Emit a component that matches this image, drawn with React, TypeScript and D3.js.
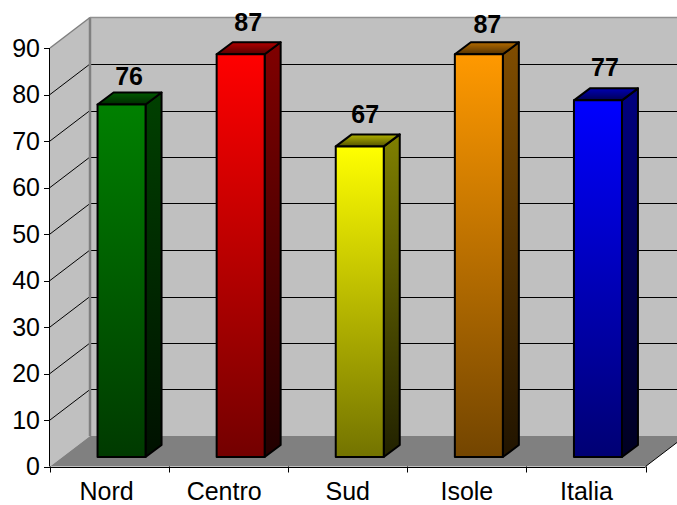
import React from "react";
import * as d3 from "d3";

const categories = ["Nord", "Centro", "Sud", "Isole", "Italia"];
const values = [75.8, 86.6, 66.8, 86.6, 76.7];
const frontColors = ["#008000", "#ff0000", "#ffff00", "#ff9900", "#0000ff"];
const yTicks = [0, 10, 20, 30, 40, 50, 60, 70, 80, 90];
const labelNudge = [-3, -4.5, 0, 0, 0.5];
const valueNudgeX = [0.5, 0.5, -1.5, 1.5, 0];
const valueNudgeY = [4, 0, 0, 2, -1.5];

const W = 677, H = 505;
const x0 = 50, x1 = 645.5, yBase = 466.5, yTop = 48;
const DX = 40, DY = -30.5;
const barW = 48, sideX = 16, sideY = -12;
const barDX = 12, barDY = -9.5;

const x = d3.scaleBand<string>().domain(categories).range([x0, x1]);
const y = d3.scaleLinear().domain([0, 90]).range([yBase, yTop]);
const tickEdges = d3.range(categories.length + 1).map((i) => x0 + i * x.bandwidth());
const pts = (a: number[][]) => a.map((p) => p.join(",")).join(" ");
const mix = (c: string, k: number) => {
  const r = d3.rgb(c);
  return d3.rgb(r.r * k, r.g * k, r.b * k).formatHex();
};
const crisp = (v: number) => Math.round(v) + 0.5;

export default function App() {
  const font = "'Liberation Sans', Arial, sans-serif";
  return (
    <svg width={W} height={H} style={{ position: "absolute", left: 0, top: 0 }} fontFamily={font}>
      <defs>
        {frontColors.map((c, i) => (
          <React.Fragment key={c}>
            <linearGradient id={`f${i}`} x1="0" y1="0" x2="0" y2="1">
              <stop offset="0" stopColor={c} />
              <stop offset="1" stopColor={mix(c, 0.45)} />
            </linearGradient>
            <linearGradient id={`s${i}`} x1="0" y1="0" x2="0" y2="1">
              <stop offset="0" stopColor={mix(c, 0.5)} />
              <stop offset="1" stopColor={mix(c, 0.13)} />
            </linearGradient>
            <linearGradient id={`t${i}`} x1="0" y1="0" x2="0" y2="1">
              <stop offset="0" stopColor={mix(c, 0.7)} />
              <stop offset="1" stopColor={mix(c, 0.33)} />
            </linearGradient>
          </React.Fragment>
        ))}
      </defs>

      {/* back wall */}
      <rect x={x0 + DX} y={yTop + DY} width={W - x0 - DX + 10} height={yBase - yTop} fill="#c0c0c0" />
      {/* left wall */}
      <polygon
        points={pts([[x0, yBase], [x0, yTop], [x0 + DX, yTop + DY], [x0 + DX, yBase + DY]])}
        fill="#c0c0c0"
      />
      {/* floor */}
      <polygon
        points={pts([[x0, yBase], [x1, yBase], [x1 + DX, yBase + DY], [x0 + DX, yBase + DY]])}
        fill="#808080"
      />

      {/* grid */}
      {yTicks.slice(1, -1).map((t) => (
        <g key={t} stroke="#000" strokeWidth={1} fill="none">
          <line x1={x0} y1={y(t)} x2={x0 + DX} y2={y(t) + DY} />
          <line x1={x0 + DX} y1={crisp(y(t) + DY)} x2={W} y2={crisp(y(t) + DY)} />
        </g>
      ))}

      {/* wall edges */}
      <line x1={x0 + DX} y1={yTop + DY} x2={x0 + DX} y2={yBase + DY} stroke="#808080" strokeWidth={2.5} />
      <line x1={x0 + DX} y1={yTop + DY} x2={W} y2={yTop + DY} stroke="#909090" strokeWidth={1.5} />
      <line x1={x0} y1={yTop} x2={x0 + DX} y2={yTop + DY} stroke="#808080" strokeWidth={1.5} />

      {/* axes */}
      <g stroke="#000" strokeWidth={1}>
        <line x1={x0 - 0.5} y1={yTop} x2={x0 - 0.5} y2={yBase} />
        <line x1={x0} y1={crisp(yBase)} x2={x1} y2={crisp(yBase)} />
        <line x1={x1} y1={yBase} x2={x1 + DX} y2={yBase + DY} />
        {yTicks.map((t) => (
          <line key={t} x1={x0 - 6} y1={crisp(y(t))} x2={x0} y2={crisp(y(t))} />
        ))}
        {tickEdges.map((e) => (
          <line key={e} x1={crisp(e)} y1={yBase} x2={crisp(e)} y2={yBase + 6} />
        ))}
      </g>

      {/* bars */}
      {categories.map((c, i) => {
        const left = x(c)! + (x.bandwidth() - barW) / 2 + barDX;
        const right = left + barW;
        const bottom = yBase + barDY;
        const top = y(values[i]) + barDY;
        return (
          <g key={c} stroke="#000" strokeWidth={2} strokeLinejoin="round">
            <polygon
              points={pts([[right, top], [right + sideX, top + sideY], [right + sideX, bottom + sideY], [right, bottom]])}
              fill={`url(#s${i})`}
            />
            <polygon
              points={pts([[left, top], [left + sideX, top + sideY], [right + sideX, top + sideY], [right, top]])}
              fill={`url(#t${i})`}
            />
            <rect x={left} y={top} width={barW} height={bottom - top} fill={`url(#f${i})`} />
            <text
              x={(left + right) / 2 + 7 + valueNudgeX[i]}
              y={top + sideY - 11.3 + valueNudgeY[i]}
              textAnchor="middle"
              fontSize={25}
              fontWeight="bold"
              stroke="none"
              fill="#000"
            >
              {Math.round(values[i])}
            </text>
          </g>
        );
      })}

      {/* labels */}
      {yTicks.map((t) => (
        <text key={t} x={x0 - 10} y={y(t) + 8.7} textAnchor="end" fontSize={25} fill="#000">
          {t}
        </text>
      ))}
      {categories.map((c, i) => (
        <text key={c} x={x(c)! + x.bandwidth() / 2 + labelNudge[i]} y={499.7} textAnchor="middle" fontSize={25} fill="#000">
          {c}
        </text>
      ))}
    </svg>
  );
}
